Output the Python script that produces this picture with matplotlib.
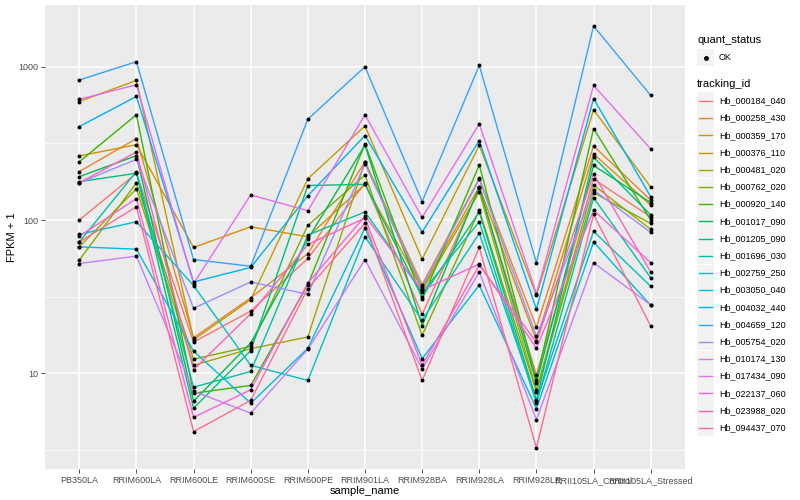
import numpy as np
import matplotlib
matplotlib.use('Agg')
import matplotlib.pyplot as plt
from matplotlib.lines import Line2D
from matplotlib.patches import Rectangle

samples = ['PB350LA', 'RRIM600LA', 'RRIM600LE', 'RRIM600SE', 'RRIM600PE', 'RRIM901LA',
           'RRIM928BA', 'RRIM928LA', 'RRIM928LE', 'RRII105LA_Control', 'RRII105LA_Stressed']

tracking_ids = ['Hb_000184_040', 'Hb_000258_430', 'Hb_000359_170', 'Hb_000376_110', 'Hb_000481_020',
                'Hb_000762_020', 'Hb_000920_140', 'Hb_001017_090', 'Hb_001205_090', 'Hb_001696_030',
                'Hb_002759_250', 'Hb_003050_040', 'Hb_004032_440', 'Hb_004659_120', 'Hb_005754_020',
                'Hb_010174_130', 'Hb_017434_090', 'Hb_022137_060', 'Hb_023988_020', 'Hb_094437_070']

# FPKM + 1 per sample
hb_000184_040 = [100, 202, 16.0, 25.5, 56.2, 174, 24.3, 161, 9.8, 185, 105]
hb_000258_430 = [207, 340, 17.1, 31.1, 60.5, 240, 38, 187, 20, 304, 135]
hb_000359_170 = [262, 310, 66.3, 90.4, 77.8, 171, 35.8, 165, 16.4, 270, 125]
hb_000376_110 = [593, 814, 16.6, 30.3, 186, 411, 55.6, 307, 32.3, 524, 164]
hb_000481_020 = [66.9, 160, 11.3, 14.5, 17.3, 240, 34.8, 153, 7.8, 169, 87]
hb_000762_020 = [54.8, 175, 12.4, 15.0, 92.3, 197, 17.7, 116, 7.6, 151, 95]
hb_000920_140 = [240, 486, 7.43, 8.35, 38.0, 314, 30.5, 229, 9.0, 395, 100]
hb_001017_090 = [192, 263, 6.59, 15.8, 75.2, 308, 20.5, 165, 8.7, 227, 130]
hb_001205_090 = [178, 202, 5.93, 14.1, 168, 171, 31.5, 113, 6.7, 257, 108]
hb_001696_030 = [72, 207, 8.14, 10.3, 79.8, 113, 33.8, 97.6, 6.4, 140, 42]
hb_002759_250 = [80.7, 97.5, 37.4, 11.3, 9.0, 77.8, 22.2, 82, 6.6, 84.5, 37]
hb_003050_040 = [66.9, 64.6, 14.0, 6.40, 14.6, 88.6, 12.5, 37.6, 5.9, 72, 27.8]
hb_004032_440 = [407, 640, 39.5, 49.1, 144, 356, 83.5, 330, 26.2, 620, 142]
hb_004659_120 = [819, 1078, 55.3, 50.0, 455, 1000, 132, 1020, 52.7, 1840, 650]
hb_005754_020 = [175, 249, 26.6, 39.5, 32.8, 232, 36.7, 184, 17.5, 157, 83]
hb_010174_130 = [52.1, 58.2, 7.66, 5.51, 14.4, 55.3, 10.7, 45.8, 5.0, 52.7, 28]
hb_017434_090 = [613, 762, 38.5, 146, 115, 486, 104, 424, 33.2, 755, 291]
hb_022137_060 = [78.6, 138, 5.18, 7.82, 38.9, 106, 35, 51.6, 14.6, 116, 52.7]
hb_023988_020 = [175, 278, 10.6, 24.5, 69.4, 103, 11.3, 50.8, 16.0, 200, 45.8]
hb_094437_070 = [72, 122, 4.18, 6.67, 35.8, 95.3, 9.0, 66.3, 3.27, 109, 20.4]

series = [hb_000184_040, hb_000258_430, hb_000359_170, hb_000376_110, hb_000481_020,
          hb_000762_020, hb_000920_140, hb_001017_090, hb_001205_090, hb_001696_030,
          hb_002759_250, hb_003050_040, hb_004032_440, hb_004659_120, hb_005754_020,
          hb_010174_130, hb_017434_090, hb_022137_060, hb_023988_020, hb_094437_070]

# ggplot2 default hue palette for 20 levels
colors = ['#F8766D', '#EA8331', '#D89000', '#C09B00', '#A3A500', '#7CAE00', '#39B600',
          '#00BB4E', '#00BF7D', '#00C1A3', '#00BFC4', '#00BAE0', '#00B0F6', '#35A2FF',
          '#9590FF', '#C77CFF', '#E76BF3', '#FA62DB', '#FF62BC', '#FF6C91']

plt.rcParams['font.family'] = ['Liberation Sans', 'DejaVu Sans']

W, H = 800, 500
fig = plt.figure(figsize=(8, 5), dpi=100)
ax = fig.add_axes([45 / W, 1 - 469 / H, 640 / W, 464 / H])
ax.set_facecolor('#EBEBEB')

x = np.arange(1, len(samples) + 1)
for vals, c in zip(series, colors):
    ax.plot(x, vals, color=c, lw=1.0, zorder=3)
for vals in series:
    ax.scatter(x, vals, s=8, color='black', zorder=4, linewidths=0)

ax.set_yscale('log')
allv = np.log10(np.concatenate([np.array(s) for s in series]))
lo, hi = allv.min(), allv.max()
pad = (hi - lo) * 0.05
ax.set_ylim(10 ** (lo - pad), 10 ** (hi + pad))
ax.set_xlim(0.4, len(samples) + 0.6)

ax.set_yticks([10, 100, 1000])
ax.set_yticklabels(['10', '100', '1000'])
ax.set_yticks([10 ** 0.5, 10 ** 1.5, 10 ** 2.5], minor=True)
ax.yaxis.set_minor_formatter(matplotlib.ticker.NullFormatter())
ax.set_xticks(x)
ax.set_xticklabels(samples)
ax.grid(which='major', color='white', lw=1.1, zorder=0)
ax.grid(which='minor', axis='y', color='white', lw=0.55, zorder=0)
ax.set_axisbelow(True)
ax.tick_params(which='major', length=3, width=0.6, color='#333333', labelsize=6.5,
               labelcolor='#4D4D4D', pad=2)
ax.tick_params(which='minor', length=0)
for s in ax.spines.values():
    s.set_visible(False)

ax.set_xlabel('sample_name', fontsize=8, labelpad=1)
ax.set_ylabel('FPKM + 1', fontsize=8, labelpad=1)

# legend, drawn ggplot style
def fx(px):
    return px / W

def fy(py):
    return 1 - py / H

fig.text(fx(697), fy(40), 'quant_status', fontsize=8, va='center', ha='left')
fig.patches.append(Rectangle((fx(697), fy(66)), 17 / W, 17 / H, transform=fig.transFigure,
                             facecolor='#F2F2F2', edgecolor='none'))
fig.lines.append(Line2D([fx(705.5)], [fy(57.5)], marker='o', ms=2.5, color='black',
                        transform=fig.transFigure, lw=0))
fig.text(fx(719), fy(57.5), 'OK', fontsize=6.5, va='center', ha='left')

fig.text(fx(697), fy(84), 'tracking_id', fontsize=8, va='center', ha='left')
step = 17.2
for i, (name, c) in enumerate(zip(tracking_ids, colors)):
    yc = 101 + i * step
    fig.patches.append(Rectangle((fx(697), fy(yc + 8.5)), 17 / W, 17 / H, transform=fig.transFigure,
                                 facecolor='#F2F2F2', edgecolor='none'))
    fig.lines.append(Line2D([fx(699), fx(712)], [fy(yc), fy(yc)], color=c, lw=1.0,
                            transform=fig.transFigure))
    fig.text(fx(719), fy(yc), name, fontsize=6.5, va='center', ha='left')

fig.savefig('out.png', dpi=100)
